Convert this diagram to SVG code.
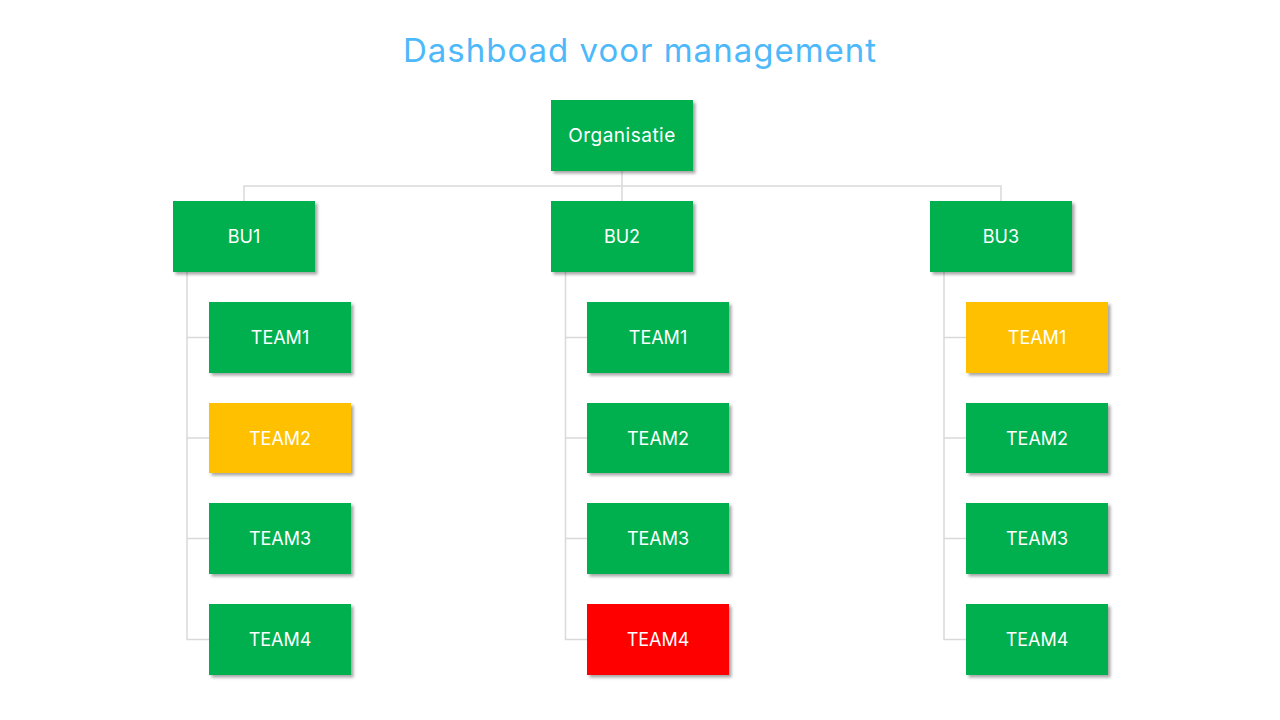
<svg xmlns="http://www.w3.org/2000/svg" width="1280" height="720" viewBox="0 0 1280 720">
<defs>
<filter id="sh" x="-10%" y="-10%" width="130%" height="140%">
<feDropShadow dx="2.5" dy="2.5" stdDeviation="1.5" flood-color="#000" flood-opacity="0.35"/>
</filter>
<style>
.box{filter:url(#sh)}
.g{fill:#00B050}.y{fill:#FFC000}.r{fill:#FF0000}
.lbl{font-family:Inter,"Liberation Sans",sans-serif;font-size:18px;fill:#FFFFFF;text-anchor:middle;dominant-baseline:central}
.wide{font-size:19px;letter-spacing:0.5px}
.ln{fill:none;stroke:#D9D9D9;stroke-width:1.5}
</style>
</defs>
<rect width="1280" height="720" fill="#FFFFFF"/>
<text x="640" y="62" font-family="Inter,'Liberation Sans',sans-serif" font-size="33" letter-spacing="1" fill="#4DB8FA" text-anchor="middle">Dashboad voor management</text>
<g id="connectors">
<path class="ln" d="M622 171V201M244 201V186H1001V201"/>
<path class="ln" d="M187 272V639.5H209M187 337.5H209M187 438H209M187 538.5H209"/>
<path class="ln" d="M565.5 272V639.5H587M565.5 337.5H587M565.5 438H587M565.5 538.5H587"/>
<path class="ln" d="M944 272V639.5H966M944 337.5H966M944 438H966M944 538.5H966"/>
</g>
<g id="org"><rect class="box g" x="551" y="100" width="142" height="71"/><text class="lbl wide" x="622" y="135.5">Organisatie</text></g>
<g id="bu1"><rect class="box g" x="173" y="201" width="142" height="71"/><text class="lbl" x="244" y="236.5">BU1</text></g>
<g id="bu2"><rect class="box g" x="551" y="201" width="142" height="71"/><text class="lbl" x="622" y="236.5">BU2</text></g>
<g id="bu3"><rect class="box g" x="930" y="201" width="142" height="71"/><text class="lbl" x="1001" y="236.5">BU3</text></g>
<g id="bu1-team1"><rect class="box g" x="209" y="302" width="142" height="71"/><text class="lbl" x="280" y="337.5">TEAM1</text></g>
<g id="bu1-team2"><rect class="box y" x="209" y="403" width="142" height="70"/><text class="lbl" x="280" y="438">TEAM2</text></g>
<g id="bu1-team3"><rect class="box g" x="209" y="503" width="142" height="71"/><text class="lbl" x="280" y="538.5">TEAM3</text></g>
<g id="bu1-team4"><rect class="box g" x="209" y="604" width="142" height="71"/><text class="lbl" x="280" y="639.5">TEAM4</text></g>
<g id="bu2-team1"><rect class="box g" x="587" y="302" width="142" height="71"/><text class="lbl" x="658" y="337.5">TEAM1</text></g>
<g id="bu2-team2"><rect class="box g" x="587" y="403" width="142" height="70"/><text class="lbl" x="658" y="438">TEAM2</text></g>
<g id="bu2-team3"><rect class="box g" x="587" y="503" width="142" height="71"/><text class="lbl" x="658" y="538.5">TEAM3</text></g>
<g id="bu2-team4"><rect class="box r" x="587" y="604" width="142" height="71"/><text class="lbl" x="658" y="639.5">TEAM4</text></g>
<g id="bu3-team1"><rect class="box y" x="966" y="302" width="142" height="71"/><text class="lbl" x="1037" y="337.5">TEAM1</text></g>
<g id="bu3-team2"><rect class="box g" x="966" y="403" width="142" height="70"/><text class="lbl" x="1037" y="438">TEAM2</text></g>
<g id="bu3-team3"><rect class="box g" x="966" y="503" width="142" height="71"/><text class="lbl" x="1037" y="538.5">TEAM3</text></g>
<g id="bu3-team4"><rect class="box g" x="966" y="604" width="142" height="71"/><text class="lbl" x="1037" y="639.5">TEAM4</text></g>
</svg>
